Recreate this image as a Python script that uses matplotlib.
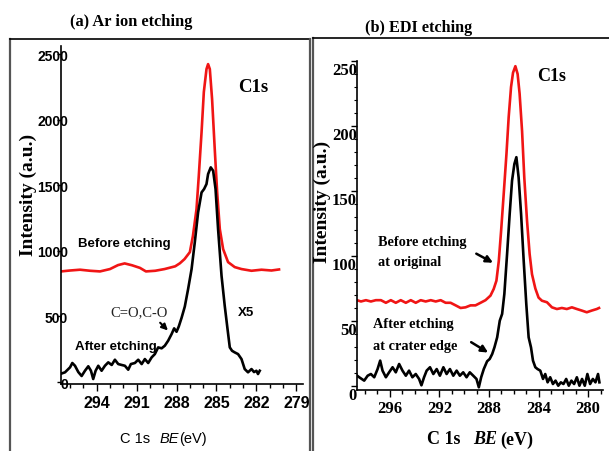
import numpy as np
import matplotlib
matplotlib.use('Agg')
import matplotlib.pyplot as plt
from matplotlib.lines import Line2D
from matplotlib.transforms import ScaledTranslation

# (a) Ar ion etching, C1s spectra (binding energy eV, intensity)
be_a_before = [296.68, 296.0, 295.25, 294.5, 293.75, 293.0, 292.4, 291.9, 291.35, 290.75,
               290.3, 289.6, 288.9, 288.1, 287.75, 287.4, 287.0, 286.77, 286.5, 286.33,
               286.12, 285.95, 285.75, 285.63, 285.5, 285.33, 285.13, 284.95, 284.75, 284.5,
               284.13, 283.63, 283.12, 282.37, 281.62, 280.87, 280.3]
int_a_before = [843, 850, 856, 848, 843, 861, 891, 904, 890, 870,
                843, 848, 861, 882, 905, 937, 990, 1113, 1318, 1570,
                1905, 2210, 2385, 2423, 2385, 2156, 1775, 1448, 1166, 1013,
                914, 876, 861, 848, 856, 850, 858]

be_a_after = [296.75, 296.38, 296.0, 295.83, 295.63, 295.38, 295.13, 294.88, 294.63, 294.43,
              294.26, 294.08, 293.88, 293.63, 293.38, 293.13, 292.87, 292.63, 292.38, 292.12,
              291.88, 291.63, 291.43, 291.13, 290.88, 290.62, 290.38, 290.13, 289.87, 289.63,
              289.38, 289.12, 288.88, 288.63, 288.37, 288.18, 288.0, 287.83, 287.62, 287.38,
              287.13, 286.87, 286.63, 286.38, 286.12, 285.93, 285.75, 285.63, 285.43, 285.25,
              285.07, 284.88, 284.62, 284.38, 284.17, 284.0, 283.83, 283.63, 283.38, 283.12,
              282.88, 282.63, 282.37, 282.18, 282.0, 281.88, 281.75]
int_a_after = [61, 74, 112, 145, 124, 76, 46, 86, 120, 86,
               23, 86, 124, 86, 124, 150, 130, 170, 137, 130,
               124, 94, 137, 145, 170, 137, 175, 145, 188, 213,
               264, 257, 277, 315, 366, 409, 383, 424, 490, 575,
               709, 861, 1064, 1293, 1445, 1471, 1509, 1585, 1636, 1610,
               1471, 1166, 810, 581, 404, 264, 238, 226, 213, 175,
               99, 74, 99, 76, 86, 61, 86]

# (b) EDI etching
be_b_before = [298.65, 298.33, 297.93, 297.53, 297.13, 296.72, 296.32, 295.92, 295.52, 295.12,
               294.71, 294.31, 293.91, 293.51, 293.11, 292.70, 292.30, 291.90, 291.50, 291.10,
               290.69, 290.29, 289.89, 289.49, 289.09, 288.68, 288.28, 287.88, 287.62, 287.40,
               287.21, 287.02, 286.81, 286.59, 286.41, 286.22, 286.06, 285.87, 285.69, 285.53,
               285.33, 285.15, 284.93, 284.72, 284.53, 284.26, 284.00, 283.73, 283.32, 282.92,
               282.52, 282.12, 281.72, 281.31, 280.91, 280.51, 280.11, 279.71, 279.30, 279.12]
int_b_before = [66, 65, 66, 65, 66, 66, 64, 66, 64, 66,
                64, 66, 64, 66, 65, 66, 65, 66, 64, 64,
                62, 60, 60.5, 62, 62, 64, 66, 69.5, 74.6, 81,
                96, 119.5, 148, 178.5, 207, 230, 241, 246, 240, 225,
                196, 160, 127, 101.5, 86, 75, 68, 65.6, 64.4, 60.5,
                59.2, 60, 59.2, 60.5, 59.2, 58, 56.7, 58, 59.2, 60]

be_b_after = [298.65, 298.47, 298.07, 297.79, 297.53, 297.26, 296.99, 296.78, 296.59, 296.32,
              296.06, 295.78, 295.52, 295.25, 294.98, 294.71, 294.45, 294.18, 293.91, 293.64,
              293.45, 293.24, 293.03, 292.76, 292.49, 292.22, 291.96, 291.68, 291.42, 291.15,
              290.88, 290.61, 290.35, 290.08, 289.81, 289.55, 289.27, 289.01, 288.82, 288.63,
              288.42, 288.15, 287.94, 287.74, 287.56, 287.34, 287.13, 286.94, 286.76, 286.54,
              286.33, 286.14, 285.95, 285.79, 285.61, 285.41, 285.20, 284.99, 284.80, 284.61,
              284.45, 284.26, 284.08, 283.86, 283.64, 283.46, 283.27, 283.06, 282.84, 282.63,
              282.41, 282.20, 281.99, 281.77, 281.56, 281.35, 281.13, 280.91, 280.70, 280.49,
              280.27, 280.06, 279.84, 279.62, 279.41, 279.20, 279.09]
int_b_after = [8, 6.7, 4.1, 7.9, 9.2, 6.7, 13, 19.5, 11.8, 6.7,
               10.5, 14.4, 10.5, 16.9, 11.8, 7.9, 11.8, 6.7, 9.2, 5.4,
               0.5, 6.7, 11.8, 14.4, 9.2, 13, 7.9, 14.4, 9.2, 13,
               7.9, 11.8, 7.9, 10.5, 6.7, 10.5, 7.9, 5.4, -1, 6.7,
               13, 19, 20.8, 24.6, 29.7, 37.4, 50.2, 55.4, 70.8, 101.5,
               132.3, 157.9, 170.8, 176, 160.5, 132.3, 96.4, 63, 37.4, 29.7,
               19.5, 14.4, 13, 11.8, 5.4, 9.2, 2.8, 6.7, 1.5, 4.1,
               0.2, 2.8, 1.5, 5.4, 0.2, 4.1, 1.5, 6.7, 0.2, 5.4,
               0.2, 9.2, 1.5, 5.4, 2.8, 9.2, 2.8]

xticks_a = [294, 291, 288, 285, 282, 279]
yticks_a = [0, 500, 1000, 1500, 2000, 2500]
xticks_b = [296, 292, 288, 284, 280]
yticks_b = [0, 50, 100, 150, 200, 250]

W, H = 609, 452
def fx(px):
    return px / W
def fy(py):
    return 1 - py / H

SANS = ['Liberation Sans', 'DejaVu Sans']
SERIF = ['Liberation Serif', 'DejaVu Serif']
RED = '#f01515'

fig = plt.figure(figsize=(W / 100, H / 100), dpi=100)
fig.patch.set_facecolor('white')

axA = fig.add_axes([fx(61), fy(385), (303 - 61) / W, (385 - 47) / H])
axB = fig.add_axes([fx(357), fy(391), (603 - 357) / W, (391 - 62) / H])

for ax in (axA, axB):
    for s in ('top', 'right'):
        ax.spines[s].set_visible(False)
    for s in ('left', 'bottom'):
        ax.spines[s].set_linewidth(1.2)
    ax.set_facecolor('none')

# ---- panel (a)
axA.plot(be_a_before, int_a_before, color=RED, lw=1.9)
axA.plot(be_a_after, int_a_after, color='black', lw=1.9)
axA.set_xlim(296.68, 278.5)
axA.set_ylim(-15, 2561)
axA.set_xticks(xticks_a)
axA.set_xticks(np.arange(279, 297, 1), minor=True)
axA.set_yticks(yticks_a)
axA.tick_params(axis='x', which='major', direction='out', length=5, width=1, pad=3)
axA.tick_params(axis='x', which='minor', direction='out', length=3, width=1)
axA.tick_params(axis='y', which='major', direction='out', length=3, width=1, pad=-8)
for lab in axA.get_xticklabels():
    lab.set_fontfamily(SANS); lab.set_fontweight('bold'); lab.set_fontsize(11.5)
for lab in axA.get_yticklabels():
    lab.set_fontfamily(SANS); lab.set_fontweight('bold'); lab.set_fontsize(10)

axA.text(283.4, 2255, 'C1s', family=SERIF, weight='bold', fontsize=13.5, va='center', ha='left')
axA.text(295.4, 1059, 'Before etching', family=SANS, weight='bold', fontsize=9.5, va='center')
axA.text(295.63, 274, 'After etching', family=SANS, weight='bold', fontsize=9.5, va='center')
axA.text(293.0, 533, 'C=O,C-O', family=SERIF, color='#222222', fontsize=10.5, va='center')
axA.text(283.4, 533, 'X5', family=SANS, weight='bold', fontsize=9.5, va='center')
axA.annotate('', xy=(288.5, 378), xytext=(289.38, 467),
             arrowprops=dict(arrowstyle='-|>', color='black', lw=1.5, mutation_scale=9))

# ---- panel (b)
axB.plot(be_b_before, int_b_before, color=RED, lw=1.9)
axB.plot(be_b_after, int_b_after, color='black', lw=1.9)
axB.set_xlim(298.65, 278.8)
axB.set_ylim(-3.1, 250)
axB.set_xticks(xticks_b)
axB.set_xticks(np.arange(279, 299, 1), minor=True)
axB.set_yticks(yticks_b)
axB.set_yticks(np.arange(0, 251, 10), minor=True)
axB.tick_params(axis='x', which='major', direction='out', length=5, width=1, pad=2)
axB.tick_params(axis='x', which='minor', direction='out', length=3, width=1)
axB.tick_params(axis='y', which='major', direction='out', length=4, width=1, pad=-4)
axB.tick_params(axis='y', which='minor', direction='out', length=2, width=0.8)
shift = ScaledTranslation(0, -7 / 100, fig.dpi_scale_trans)
for lab in axB.get_xticklabels():
    lab.set_fontfamily(SERIF); lab.set_fontweight('bold'); lab.set_fontsize(12)
for lab in axB.get_yticklabels():
    lab.set_fontfamily(SERIF); lab.set_fontweight('bold'); lab.set_fontsize(12)
    lab.set_transform(lab.get_transform() + shift)

axB.text(284.1, 238.5, 'C1s', family=SERIF, weight='bold', fontsize=13, va='center')
axB.text(296.96, 111.5, 'Before etching', family=SERIF, weight='bold', fontsize=10.3, va='center')
axB.text(296.96, 95.4, 'at original', family=SERIF, weight='bold', fontsize=10.3, va='center')
axB.text(297.37, 47.7, 'After etching', family=SERIF, weight='bold', fontsize=10.3, va='center')
axB.text(297.37, 30.8, 'at crater edge', family=SERIF, weight='bold', fontsize=10.3, va='center')
axB.annotate('', xy=(287.48, 93.8), xytext=(289.22, 102.8),
             arrowprops=dict(arrowstyle='-|>', color='black', lw=1.8, mutation_scale=10))
axB.annotate('', xy=(287.88, 24.6), xytext=(289.63, 34.8),
             arrowprops=dict(arrowstyle='-|>', color='black', lw=1.8, mutation_scale=10))

# ---- titles, axis labels
fig.text(fx(70), fy(22), '(a) Ar ion etching', family=SERIF, weight='bold', fontsize=11.8, va='center')
fig.text(fx(365), fy(28), '(b) EDI etching', family=SERIF, weight='bold', fontsize=11.7, va='center')
fig.text(fx(28.5), fy(195), 'Intensity (a.u.)', family=SERIF, weight='bold', fontsize=14,
         rotation=90, ha='center', va='center')
fig.text(fx(322), fy(202), 'Intensity (a.u.)', family=SERIF, weight='bold', fontsize=14,
         rotation=90, ha='center', va='center')

fig.text(fx(120), fy(439), 'C 1s', family=SANS, fontsize=10.5, va='center')
fig.text(fx(160), fy(439), 'BE', family=SANS, style='italic', fontsize=10.5, va='center')
fig.text(fx(179), fy(439), '(eV)', family=SANS, fontsize=10.5, va='center')
fig.text(fx(427), fy(440), 'C 1s', family=SERIF, weight='bold', fontsize=13, va='center')
fig.text(fx(473), fy(440), 'BE', family=SERIF, weight='bold', style='italic', fontsize=13, va='center')
fig.text(fx(500), fy(440), '(eV)', family=SERIF, weight='bold', fontsize=13, va='center')

# ---- panel frames
frame = dict(transform=fig.transFigure, color='#555555', lw=1.6)
fig.add_artist(Line2D([fx(10), fx(10)], [fy(40), fy(452)], **frame))
fig.add_artist(Line2D([fx(10), fx(310)], [fy(40), fy(40)], transform=fig.transFigure, color='black', lw=1.2))
fig.add_artist(Line2D([fx(310), fx(310)], [fy(40), fy(452)], **frame))
fig.add_artist(Line2D([fx(313), fx(313)], [fy(39), fy(452)], **frame))
fig.add_artist(Line2D([fx(313), fx(609)], [fy(39), fy(39)], transform=fig.transFigure, color='black', lw=1.2))

fig.savefig('out.png', dpi=100)
